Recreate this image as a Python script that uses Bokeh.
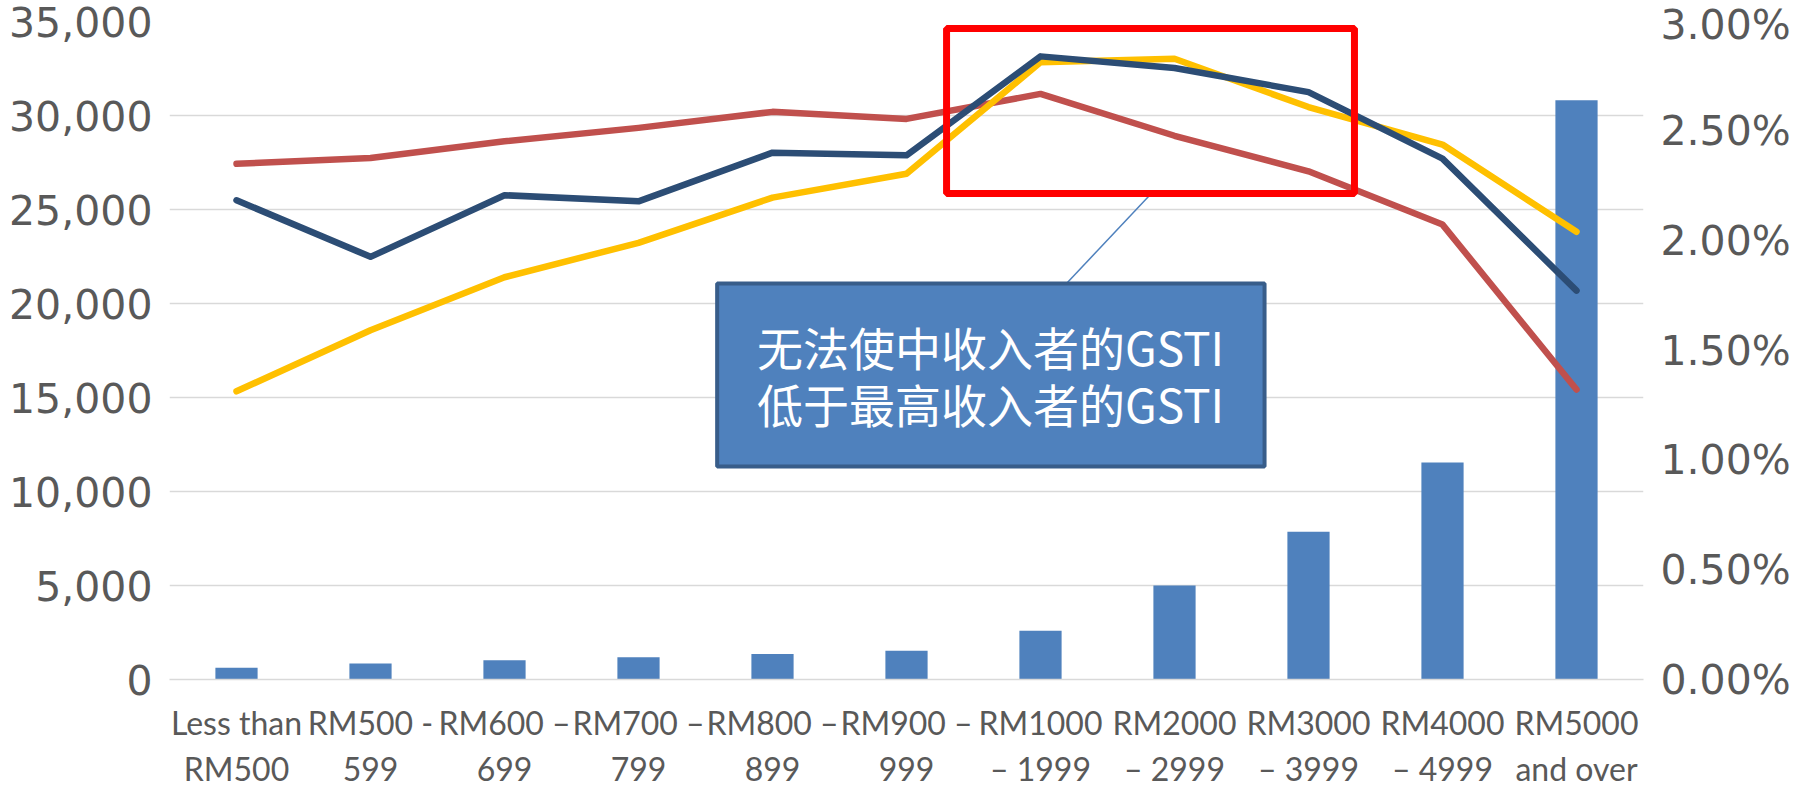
from bokeh.plotting import figure
from bokeh.models import (Range1d, LinearAxis, FixedTicker, NumeralTickFormatter,
                          PrintfTickFormatter, BoxAnnotation, Label)
from bokeh.embed import file_html
from bokeh.resources import INLINE

categories = ["Less than\nRM500", "RM500 -\n599", "RM600 \u2013\n699", "RM700 \u2013\n799",
              "RM800 \u2013\n899", "RM900 \u2013\n999", "RM1000\n\u2013 1999", "RM2000\n\u2013 2999",
              "RM3000\n\u2013 3999", "RM4000\n\u2013 4999", "RM5000\nand over"]
bar_values = [620, 850, 1030, 1190, 1350, 1530, 2590, 5000, 7860, 11540, 30810]
red_pct = [2.351, 2.378, 2.454, 2.515, 2.588, 2.556, 2.670, 2.479, 2.317, 2.074, 1.322]
navy_pct = [2.185, 1.927, 2.208, 2.180, 2.402, 2.390, 2.841, 2.788, 2.678, 2.375, 1.773]
yellow_pct = [1.314, 1.592, 1.834, 1.991, 2.197, 2.306, 2.814, 2.830, 2.610, 2.439, 2.041]
left_ticks = [0, 5000, 10000, 15000, 20000, 25000, 30000, 35000]
right_ticks = [0, 0.5, 1.0, 1.5, 2.0, 2.5, 3.0]
note_lines = ["无法使中收入者的GSTI", "低于最高收入者的GSTI"]

xs = [i + 0.5 for i in range(len(categories))]

p = figure(frame_width=1474, frame_height=658, output_backend="svg", toolbar_location=None,
           x_range=Range1d(0, len(categories)), y_range=Range1d(0, 35000),
           min_border_left=169, min_border_right=143, min_border_top=21, min_border_bottom=96)
p.outline_line_color = None
p.background_fill_color = "white"
p.border_fill_color = "white"
p.extra_y_ranges = {"pct": Range1d(0, 3.0)}

# grid
p.xgrid.grid_line_color = None
p.ygrid.ticker = FixedTicker(ticks=left_ticks)
p.ygrid.grid_line_color = "#D9D9D9"
p.ygrid.grid_line_width = 1.5

# bars
p.vbar(x=xs, top=bar_values, width=0.315, fill_color="#4F81BD", line_color=None)

# lines
for vals, col in [(red_pct, "#C0504D"), (yellow_pct, "#FFC000"), (navy_pct, "#2C4D75")]:
    p.line(x=xs, y=vals, y_range_name="pct", line_color=col, line_width=6.5,
           line_join="round", line_cap="round")

# axes
ax = p.yaxis[0]
ax.ticker = FixedTicker(ticks=left_ticks)
ax.formatter = NumeralTickFormatter(format="0,0")
ax.axis_line_color = None
ax.major_tick_line_color = None
ax.minor_tick_line_color = None
ax.major_label_text_font = "DejaVu Sans"
ax.major_label_text_font_size = "41px"
ax.major_label_text_color = "#595959"
ax.major_label_standoff = 11

rax = LinearAxis(y_range_name="pct", ticker=FixedTicker(ticks=right_ticks),
                 formatter=PrintfTickFormatter(format="%.2f%%"))
rax.axis_line_color = None
rax.major_tick_line_color = None
rax.minor_tick_line_color = None
rax.major_label_text_font = "DejaVu Sans"
rax.major_label_text_font_size = "41px"
rax.major_label_text_color = "#595959"
rax.major_label_standoff = 11
p.add_layout(rax, "right")

xax = p.xaxis[0]
xax.ticker = FixedTicker(ticks=xs)
xax.major_label_overrides = {x: c for x, c in zip(xs, categories)}
xax.axis_line_color = "#D9D9D9"
xax.axis_line_width = 1.5
xax.major_tick_line_color = None
xax.minor_tick_line_color = None
xax.major_label_text_font = "Lato"
xax.major_label_text_font_size = "32px"
xax.major_label_text_color = "#595959"
xax.major_label_standoff = 17

# annotations: red highlight box, callout box with connector
p.add_layout(BoxAnnotation(left=5.799, right=8.843, bottom=25851, top=34628,
                           fill_alpha=0, line_color="#FF0000", line_alpha=1, line_width=7))
p.segment(x0=[6.694], y0=[21064], x1=[7.313], y1=[25745], line_color="#4F81BD", line_width=1.5)
p.add_layout(BoxAnnotation(left=4.087, right=8.172, bottom=11330, top=21064,
                           fill_color="#4F81BD", fill_alpha=1, line_color="#385D8A",
                           line_alpha=1, line_width=4))
for txt, yv in zip(note_lines, [17713, 14681]):
    p.add_layout(Label(x=6.127, y=yv, text=txt, text_align="center", text_baseline="middle",
                       text_color="white", text_font="Noto Sans CJK SC", text_font_size="46px"))

open("out.html", "w").write(file_html(p, INLINE))
